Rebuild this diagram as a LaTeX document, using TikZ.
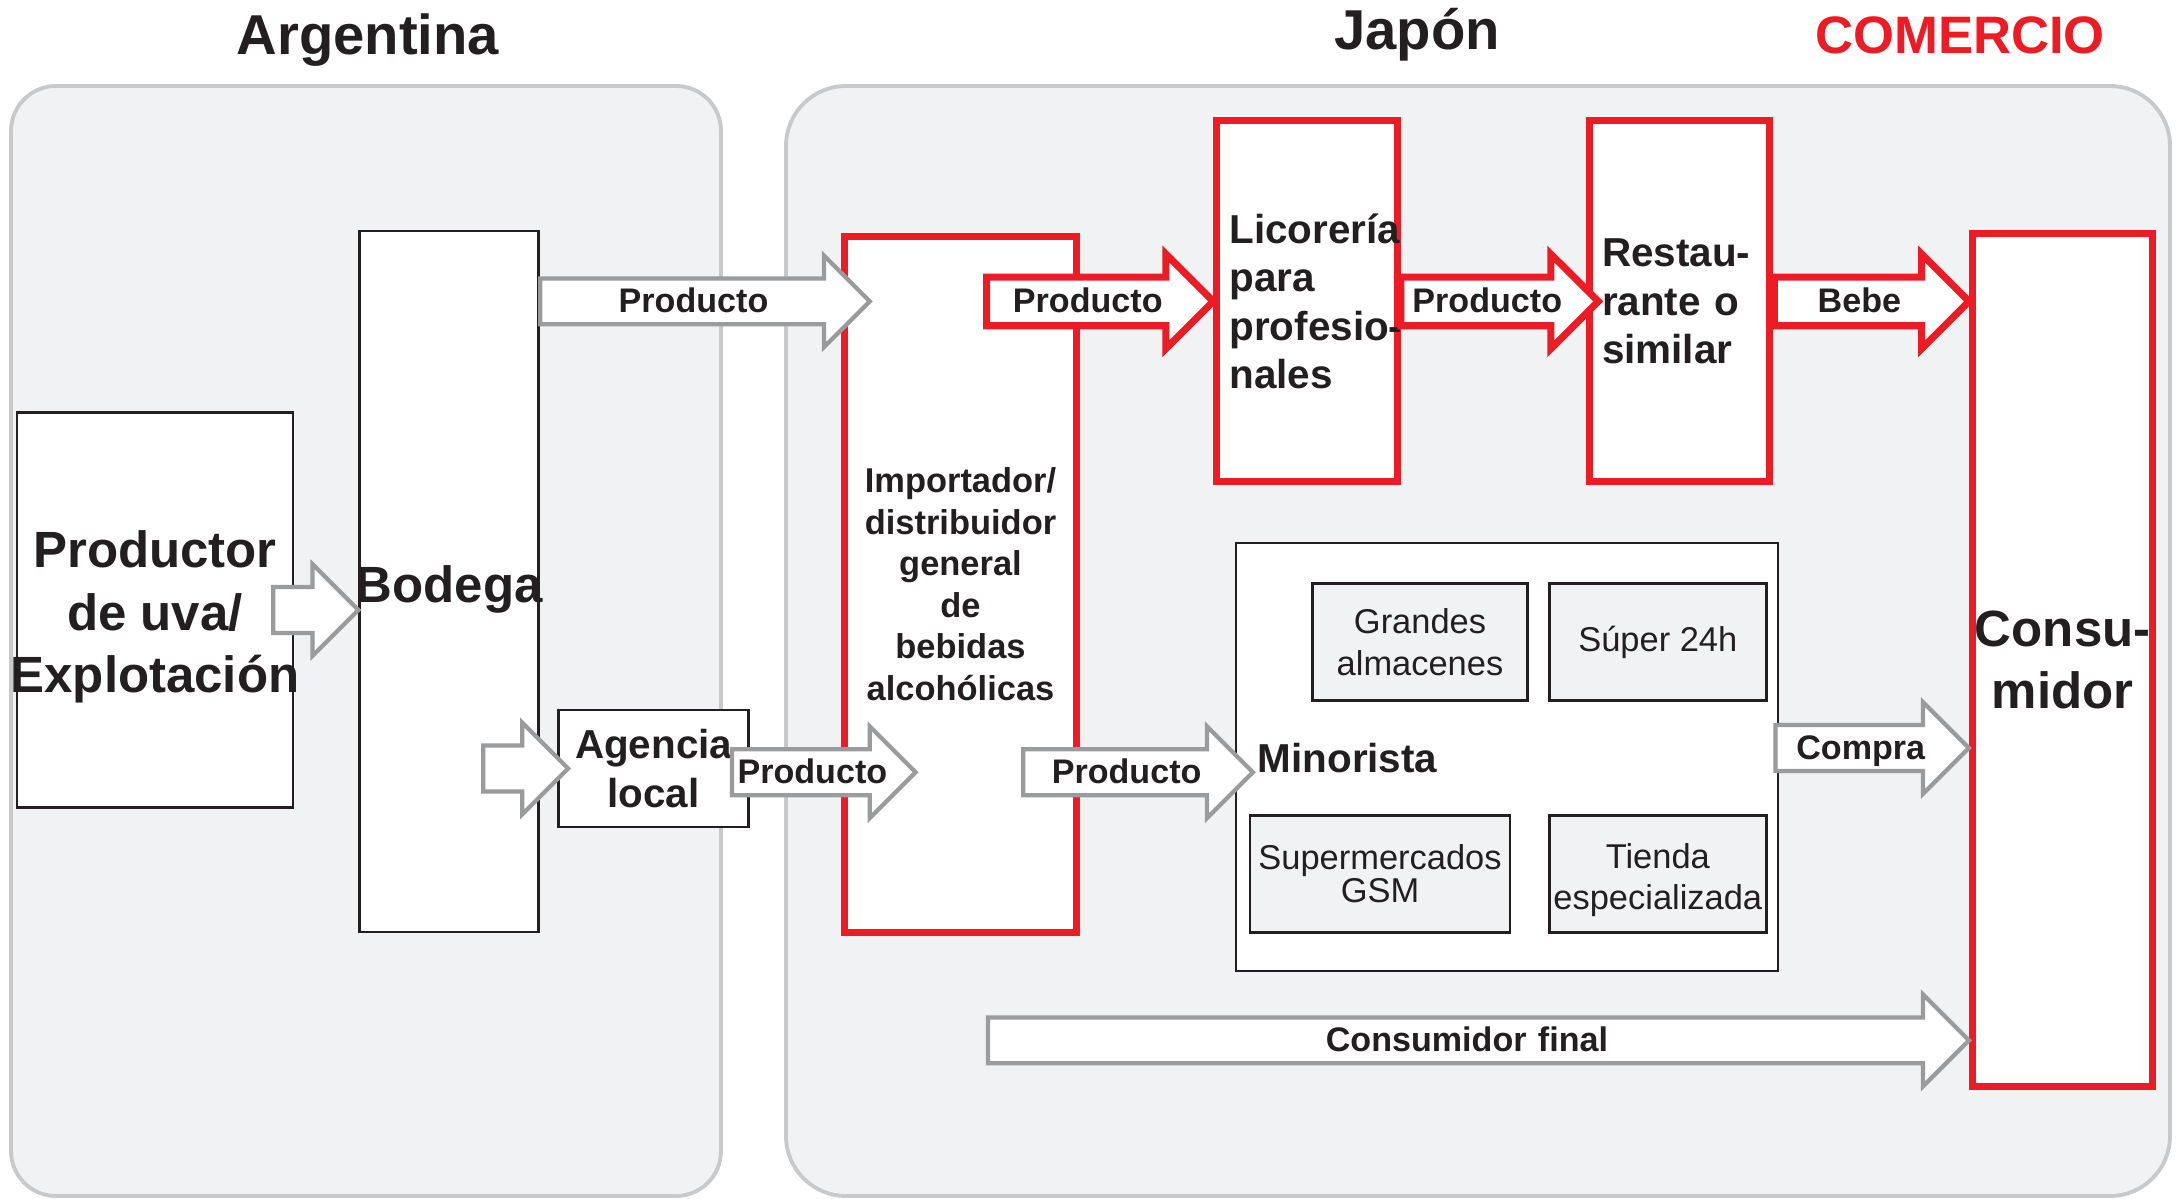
\documentclass[tikz,border=0pt]{standalone}
\usepackage{fontspec}
\setmainfont{Liberation Sans}
\usetikzlibrary{shapes.arrows, positioning}

\definecolor{panelgray}{HTML}{F1F2F4}
\definecolor{panelline}{HTML}{C8C9CB}
\definecolor{arrgray}{HTML}{9A9B9D}
\definecolor{jred}{HTML}{ED1C24}
\definecolor{ink}{HTML}{231F20}

\begin{document}
\begin{tikzpicture}[node distance=1cm, auto,
    panel/.style={draw=panelline, fill=panelgray, line width=1.1pt},
    box/.style={rectangle, draw=ink, fill=white, line width=0.8pt, align=center, text=ink, inner sep=0pt},
    redbox/.style={rectangle, draw=jred, fill=white, line width=2pt, align=center, text=ink, inner sep=0pt},
    shopbox/.style={rectangle, draw=ink, fill=panelgray, line width=0.8pt, align=center, text=ink, inner sep=0pt, minimum height=1.17cm, font=\fontsize{9.8}{11.8}\selectfont},
    garrow/.style={single arrow, draw=arrgray, fill=white, line width=1.2pt, single arrow head extend=0.229cm, single arrow tip angle=90, inner sep=0pt, outer sep=0pt, text height=0.32cm, text depth=0.097cm, align=center, text=ink, font=\bfseries\fontsize{9.7}{11}\selectfont},
    rarrow/.style={garrow, draw=jred, line width=2pt},
    title/.style={text=ink, font=\bfseries\fontsize{16}{19}\selectfont}]
    \useasboundingbox (0,0) rectangle (21.78,-11.99);
    % country panels
    \draw[panel, rounded corners=0.45cm] (0.11,-0.86) rectangle (7.21,-11.96);
    \draw[panel, rounded corners=0.6cm] (7.86,-0.86) rectangle (21.70,-11.96);
    \node[title] (argentina) at (3.68,-0.40) {Argentina};
    \node[title] (japon) at (14.17,-0.35) {Japón};
    \node[title, text=jred, font=\bfseries\fontsize{15}{18}\selectfont] (comercio) at (19.60,-0.35) {COMERCIO};
    % Argentina side
    \node[box, minimum width=2.76cm, minimum height=3.95cm, font=\bfseries\fontsize{14.5}{17.7}\selectfont] (productor) at (1.55,-6.10) {\rule{0pt}{0.51cm}Productor\\de uva/\\\makebox[0pt]{Explotación}};
    \node[box, minimum width=1.79cm, minimum height=7.01cm, right=0.64cm of productor, yshift=0.285cm, text height=12.2pt, text depth=0pt, font=\bfseries\fontsize{14.5}{17.7}\selectfont] (bodega) {\makebox[0pt]{Bodega}};
    \node[box, minimum width=1.90cm, minimum height=1.17cm, right=0.17cm of bodega, yshift=-1.87cm, font=\bfseries\fontsize{11.5}{13.8}\selectfont] (agencia) {Agencia\\local};
    % Japan side
    \node[redbox, minimum width=2.32cm, minimum height=6.96cm, font=\bfseries\fontsize{9.8}{11.8}\selectfont] (importador) at (9.605,-5.841) {Importador/\\distribuidor\\general\\de\\bebidas\\alcohólicas};
    \node[redbox, minimum width=1.805cm, minimum height=3.61cm, text width=1.55cm, align=left, font=\bfseries\fontsize{11.5}{13.8}\selectfont] (licoreria) at (13.07,-3.014) {\mbox{Licorería}\\para\\\mbox{profesio-}\\nales};
    \node[redbox, minimum width=1.805cm, minimum height=3.61cm, text width=1.55cm, align=left, right=1.85cm of licoreria, font=\bfseries\fontsize{11.5}{13.8}\selectfont] (restaurante) {\mbox{Restau-}\\\mbox{rante o}\\similar};
    \node[redbox, minimum width=1.805cm, minimum height=8.53cm, font=\bfseries\fontsize{14.5}{17.7}\selectfont] (consumidor) at (20.627,-6.598) {Consu-\\midor};
    \node[box, minimum width=5.42cm, minimum height=4.28cm] (minorista) at (15.07,-7.57) {};
    \node[shopbox, minimum width=2.15cm] (grandes) at (14.20,-6.424) {Grandes\\almacenes};
    \node[shopbox, minimum width=2.17cm, right=0.19cm of grandes] (super24) {Súper 24h};
    \node[shopbox, minimum width=2.6cm, font=\fontsize{9.8}{9.5}\selectfont] (supermercados) at (13.80,-8.737) {Supermercados\\GSM};
    \node[shopbox, minimum width=2.17cm] (tienda) at (super24 |- supermercados) {\rule{0pt}{0.38cm}Tienda\\especializada};
    \node[anchor=west, text=ink, inner sep=0pt, font=\bfseries\fontsize{11.5}{13.8}\selectfont] (minoristatxt) at (12.57,-7.584) {Minorista};
    % block arrows
    \node[garrow, text width=0.579cm, anchor=tip] (uvaarrow) at (bodega.west |- productor) {\mbox{}};
    \node[garrow, text width=3.024cm, anchor=tail] (exportarrow) at (bodega.east |- licoreria) {Producto};
    \node[garrow, text width=0.579cm, anchor=tip] (agenciain) at ([xshift=0.11cm]agencia.west) {\mbox{}};
    \node[garrow, text width=1.565cm, anchor=tail] (agenciaout) at (7.32,-7.723) {Producto};
    \node[garrow, text width=2.024cm, anchor=tip] (minoristain) at (12.529,-7.723) {Producto};
    \node[rarrow, text width=1.952cm, anchor=tip] (licoreriain) at (licoreria.west) {Producto};
    \node[rarrow, text width=1.66cm, anchor=tail] (restaurantein) at (licoreria.east) {Producto};
    \node[rarrow, text width=1.633cm, anchor=tip] (bebe) at (consumidor.west |- restaurante) {Bebe};
    \node[garrow, text width=1.663cm, anchor=tip] (compra) at (consumidor.west |- 0,-7.48) {Compra};
    \node[garrow, text width=9.538cm, anchor=tip] (consfinal) at (consumidor.west |- 0,-10.404) {Consumidor final};
\end{tikzpicture}
\end{document}
